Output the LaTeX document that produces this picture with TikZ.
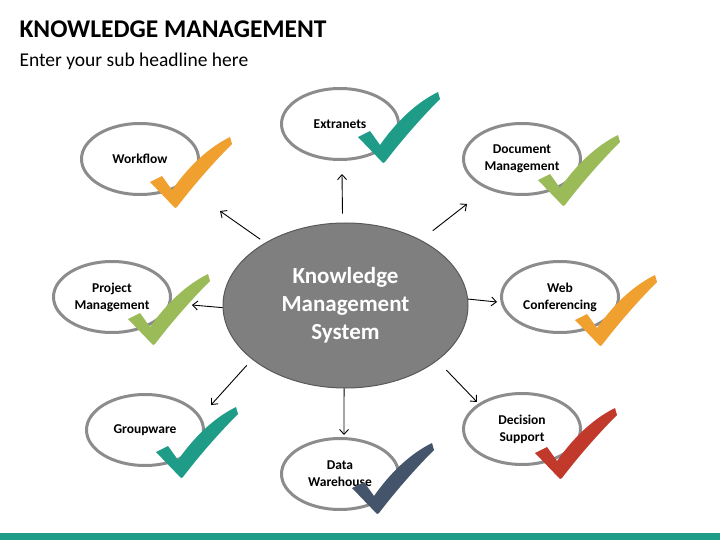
\documentclass[tikz,border=0pt]{standalone}
\usepackage{fontspec}
\setmainfont{Carlito}
\usetikzlibrary{arrows.meta,shapes.geometric}
\definecolor{kmteal}{HTML}{1E9C88}
\definecolor{kmorange}{HTML}{F0A02E}
\definecolor{kmgreen}{HTML}{9BBB59}
\definecolor{kmred}{HTML}{C0392B}
\definecolor{kmnavy}{HTML}{44546A}
\definecolor{kmgray}{HTML}{7F7F7F}
\definecolor{kmring}{HTML}{8C8C8C}
\tikzset{
  hub/.style={ellipse,draw=kmgray!70!black,fill=kmgray,line width=1pt,minimum width=245pt,minimum height=165pt,
    inner sep=0pt,text=white,align=center,font=\bfseries\fontsize{23}{28}\selectfont},
  topic/.style={ellipse,draw=kmring,line width=3pt,fill=white,minimum width=117pt,minimum height=71pt,
    inner sep=0pt,align=center,font=\bfseries\fontsize{13.5}{17}\selectfont},
  spoke/.style={-{Straight Barb[length=5pt,width=9pt]},line width=0.9pt},
  pics/tick/.style={code={
    \fill[#1] (0,0) -- (-25,-26) -- (-13,-32) -- (-3,-18)
      .. controls (14,-42) and (33,-60) .. (55,-71) -- (57,-64)
      .. controls (38,-45) and (18,-22) .. (2,-1) -- cycle;
  }}
}
\begin{document}
\begin{tikzpicture}[x=1pt,y=-1pt]
\useasboundingbox (0,0) rectangle (720,540);
\node[anchor=base west,font=\bfseries\fontsize{25.5}{30}\selectfont] (title) at (16,38) {KNOWLEDGE MANAGEMENT};
\node[anchor=base west,font=\fontsize{19.5}{23}\selectfont] (subtitle) at (16,67) {Enter your sub headline here};
\fill[kmteal] (0,533) rectangle (720,540);

\node[hub] (kms) at (345.5,305.5) {Knowledge\\Management\\System};

\node[topic] (extr) at (340,124) {Extranets};
\node[topic] (wflow) at (140,159) {Workflow};
\node[topic] (docm) at (522,159) {Document\\Management};
\node[topic] (projm) at (112,297) {Project\\Management};
\node[topic] (webc) at (560,297) {Web\\Conferencing};
\node[topic] (grpw) at (145,430) {Groupware};
\node[topic] (decs) at (522,429) {Decision\\Support};
\node[topic] (dataw) at (340,474) {Data\\Warehouse};

\coordinate (e1) at (342,174);
\coordinate (e2) at (220,211);
\coordinate (e3) at (467,204);
\coordinate (e4) at (192,305);
\coordinate (e5) at (497,302);
\coordinate (e6) at (211,405);
\coordinate (e7) at (344,435);
\coordinate (e8) at (477,402);

\draw[spoke,shorten <=9pt] (kms.92) -- (e1);
\draw[spoke,shorten <=6pt] (kms.142) -- (e2);
\draw[spoke,shorten <=15pt] (kms.41) -- (e3);
\draw[spoke] (kms.181) -- (e4);
\draw[spoke] (kms.3) -- (e5);
\draw[spoke,shorten <=8pt] (kms.210) -- (e6);
\draw[spoke] (kms.-91) -- (e7);
\draw[spoke,shorten <=13pt] (kms.-31) -- (e8);

\pic at (383,163) {tick=kmteal};
\pic at (175,208) {tick=kmorange};
\pic at (563,206) {tick=kmgreen};
\pic at (153,345) {tick=kmgreen};
\pic at (600,346) {tick=kmorange};
\pic at (181,478) {tick=kmteal};
\pic at (560,479) {tick=kmred};
\pic at (377,514) {tick=kmnavy};
\end{tikzpicture}
\end{document}
